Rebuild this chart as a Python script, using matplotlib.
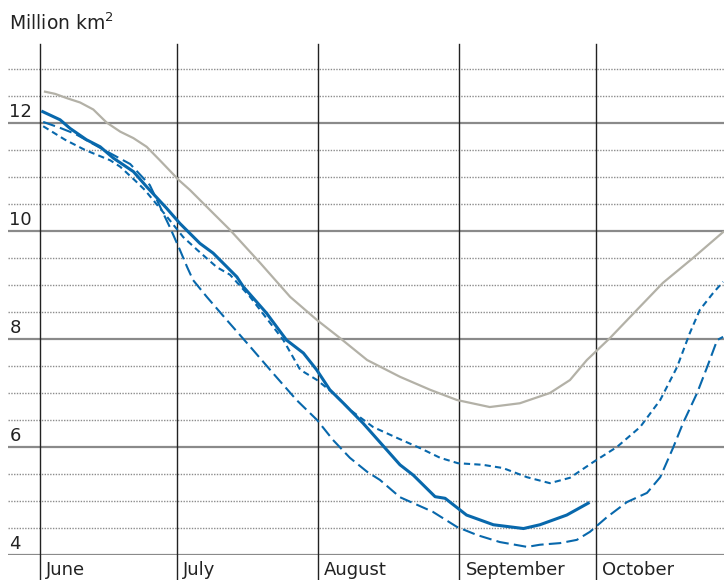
import matplotlib.pyplot as plt

# days counted from 1 June
months = ['June', 'July', 'August', 'September', 'October']
month_start = [0, 30, 61, 92, 122]

# grey: long-term average
avg_day = [1.1, 3.3, 5.9, 8.8, 11.7, 14.6, 17.6, 20.5, 23.4, 26.3, 30.5, 32.9, 38.0, 41.7,
           48.3, 54.9, 60.8, 65.8, 71.8, 79.0, 85.6, 91.5, 98.7, 105.3, 111.9, 116.3, 120.0,
           125.1, 131.0, 136.7, 143.3, 149.9]
avg_val = [12.58, 12.54, 12.46, 12.38, 12.25, 12.01, 11.84, 11.72, 11.56, 11.31, 10.94, 10.76,
           10.33, 10.02, 9.41, 8.78, 8.35, 8.02, 7.61, 7.30, 7.06, 6.87, 6.74, 6.81, 7.00, 7.24,
           7.61, 8.02, 8.54, 9.04, 9.50, 9.98]

# blue solid: this year
cur_day = [0.6, 4.4, 6.6, 10.2, 13.2, 16.1, 20.5, 23.4, 27.8, 30.7, 35.1, 38.0, 43.2, 44.6,
           49.7, 54.1, 57.8, 60.7, 63.6, 66.6, 70.9, 79.0, 81.9, 86.7, 88.9, 93.6, 99.5, 106.1,
           109.7, 115.6, 120.3]
cur_val = [12.21, 12.06, 11.90, 11.69, 11.56, 11.35, 11.10, 10.82, 10.42, 10.14, 9.77, 9.59,
           9.15, 8.97, 8.48, 7.98, 7.74, 7.43, 7.06, 6.81, 6.44, 5.67, 5.48, 5.08, 5.05, 4.74,
           4.56, 4.49, 4.56, 4.74, 4.96]

# blue short dashes
sd_day = [0.7, 5.5, 9.9, 15.4, 17.6, 20.8, 23.0, 27.9, 31.4, 34.5, 38.8, 41.7, 46.1, 53.4,
          57.1, 60.8, 64.3, 68.0, 73.1, 78.3, 83.4, 87.8, 91.7, 97.2, 101.6, 106.9, 111.9,
          116.3, 121.4, 126.6, 131.7, 136.1, 139.8, 142.6, 144.8, 147.7, 149.9]
sd_val = [11.94, 11.69, 11.50, 11.31, 11.19, 10.94, 10.76, 10.26, 9.89, 9.65, 9.33, 9.19,
          8.78, 7.98, 7.43, 7.24, 7.00, 6.69, 6.37, 6.17, 5.98, 5.80, 5.70, 5.67, 5.61, 5.44,
          5.33, 5.43, 5.72, 6.00, 6.37, 6.87, 7.48, 8.11, 8.54, 8.85, 9.06]

# blue long dashes: record low
ld_day = [0.7, 4.4, 7.7, 13.2, 19.8, 24.1, 28.5, 30.7, 32.3, 33.6, 36.6, 41.0, 46.1, 51.2,
          56.3, 60.8, 64.3, 68.0, 71.8, 74.6, 79.0, 86.2, 91.5, 95.9, 100.9, 106.9, 109.7,
          114.1, 117.8, 120.7, 122.2, 124.4, 128.8, 133.2, 136.1, 138.9, 141.1, 144.2, 146.4,
          148.6, 149.9]
ld_val = [12.02, 11.91, 11.80, 11.54, 11.24, 10.85, 10.07, 9.65, 9.33, 9.09, 8.78, 8.35, 7.86,
          7.36, 6.87, 6.50, 6.13, 5.80, 5.54, 5.39, 5.07, 4.80, 4.52, 4.37, 4.24, 4.15, 4.19,
          4.22, 4.28, 4.43, 4.54, 4.70, 4.98, 5.15, 5.44, 5.98, 6.44, 7.00, 7.48, 7.98, 8.04]

major = [4, 6, 8, 10, 12]
minor = [4.5, 5, 5.5, 6.5, 7, 7.5, 8.5, 9, 9.5, 10.5, 11, 11.5, 12.5, 13]

blue = '#0868ac'
grey = '#b3b1a7'

fig = plt.figure(figsize=(7.24, 5.8), dpi=100)
ax = fig.add_axes([8 / 724, 25 / 580, 716 / 724, 511 / 580])
ax.set_xlim(-7.02, 150.1)
ax.set_ylim(4, 4 + 511 / 54)
ax.axis('off')

for v in minor:
    ax.axhline(v, color='#8c8c8c', lw=1.0, ls=(0, (1, 1)), zorder=1)
for v in major:
    ax.axhline(v, color='#8a8a8a', lw=1.6, zorder=1)
    ax.annotate(str(v), xy=(-7.02, v), xytext=(1, 1.5), textcoords='offset points',
                fontsize=13, color='#222222', va='bottom', ha='left')

for d, m in zip(month_start, months):
    ax.axvline(d, ymin=-25 / 511, ymax=1, color='#222222', lw=1.0, clip_on=False, zorder=2)
    ax.annotate(m, xy=(d, 4), xytext=(4.5, -14.5), textcoords='offset points',
                fontsize=13, color='#222222', va='baseline', ha='left',
                annotation_clip=False)

ax.plot(avg_day, avg_val, color=grey, lw=1.6, zorder=3)
ax.plot(ld_day, ld_val, color=blue, lw=1.5, dashes=(6, 2.5), zorder=4)
ax.plot(sd_day, sd_val, color=blue, lw=1.5, dashes=(3, 2), zorder=4)
ax.plot(cur_day, cur_val, color=blue, lw=2.2, zorder=5)

fig.text(9 / 724, 1 - 30 / 580, 'Million km$^2$', fontsize=13.5, color='#222222',
         va='baseline', ha='left')

plt.savefig('out.png', dpi=100)
plt.close()
